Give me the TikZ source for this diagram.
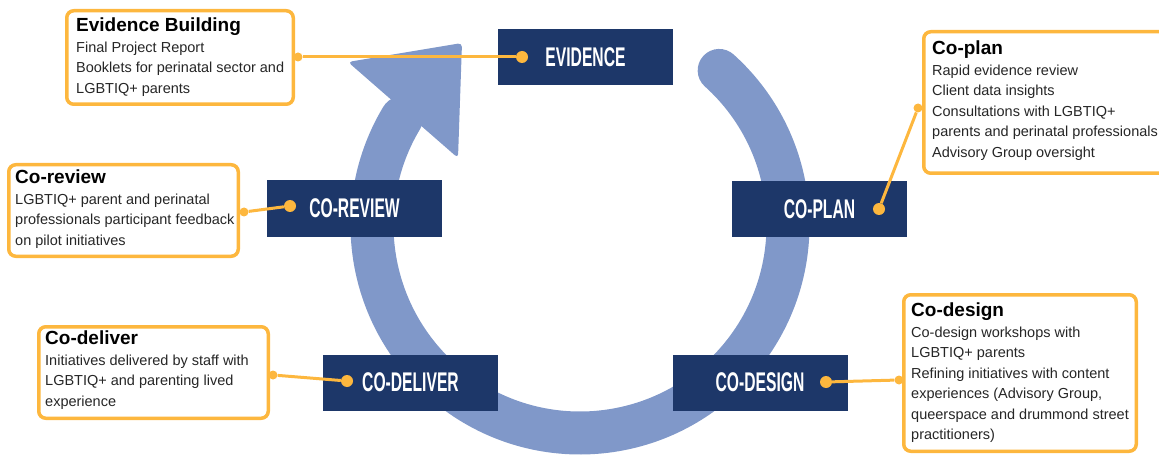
\documentclass[tikz,border=0pt]{standalone}
\usepackage{graphicx}
\usepackage{fontspec}
\setmainfont{Liberation Sans}

\definecolor{navy}{RGB}{29,55,105}
\definecolor{ringblue}{RGB}{128,152,201}
\definecolor{amber}{RGB}{253,183,62}
\definecolor{ink}{RGB}{38,38,38}

\newcommand{\stagename}[1]{\scalebox{0.58}[1]{\fontsize{27}{27}\selectfont\bfseries #1}}
\newcommand{\notetitle}[1]{{\fontsize{19}{20.5}\selectfont\bfseries\color{black}#1}}

\begin{document}
\begin{tikzpicture}[x=1pt, y=-1pt,
    stage/.style={fill=navy, text=white, minimum width=175pt, minimum height=56pt, inner sep=0pt},
    notebox/.style={draw=amber, line width=3.5pt, fill=white, rounded corners=7pt},
    note/.style={anchor=north west, align=left, inner sep=0pt, text=ink, font=\fontsize{14.5}{20.5}\selectfont},
    pin/.style={circle, fill=amber, minimum size=12pt, inner sep=0pt},
    tab/.style={circle, fill=amber, minimum size=9pt, inner sep=0pt}]

        \clip (0,0) rectangle (1159,457);

        % the cycle arrow
        \coordinate (hub) at (580,225);
        \draw[ringblue, line width=43pt, line cap=round] (hub) ++(-48:208) arc[start angle=-48, end angle=211, radius=208];
        \fill[ringblue, rounded corners=4pt] (462,43) -- (348,62) -- (458,158) -- cycle;

        \begin{scope}[every node/.style={notebox}]
          \node[minimum width=226.5pt, minimum height=93.5pt]  (evidence-box) at (180,57.5)   {};
          \node[minimum width=254.5pt, minimum height=141.5pt] (coplan-box)   at (1051,102.5) {};
          \node[minimum width=229.5pt, minimum height=91.5pt]  (coreview-box) at (123.5,210.5) {};
          \node[minimum width=229.5pt, minimum height=91.5pt]  (codeliver-box) at (153.5,372.5) {};
          \node[minimum width=232.5pt, minimum height=156.5pt] (codesign-box) at (1020,373)  {};
        \end{scope}

        \node[note] (evidence-note) at (76,18) {\notetitle{Evidence Building}\\
          Final Project Report\\ Booklets for perinatal sector and\\ LGBTIQ+ parents};
        \node[note] (coplan-note) at (932,41) {\notetitle{Co-plan}\\
          Rapid evidence review\\ Client data insights\\ Consultations with LGBTIQ+\\
          parents and perinatal professionals\\ Advisory Group oversight};
        \node[note] (coreview-note) at (15,170) {\notetitle{Co-review}\\
          LGBTIQ+ parent and perinatal\\ professionals participant feedback\\ on pilot initiatives};
        \node[note] (codeliver-note) at (45,331) {\notetitle{Co-deliver}\\
          Initiatives delivered by staff with\\ LGBTIQ+ and parenting lived\\ experience};
        \node[note] (codesign-note) at (911,303) {\notetitle{Co-design}\\
          Co-design workshops with\\ LGBTIQ+ parents\\ Refining initiatives with content\\
          experiences (Advisory Group,\\ queerspace and drummond street\\ practitioners)};

        \begin{scope}[every node/.style={stage}]
          \node (evidence)  at (585.5,57.5) {\stagename{EVIDENCE}};
          \node (coplan)    at (819.5,209)  {\stagename{CO-PLAN}};
          \node (codesign)  at (760,382.5)  {\stagename{CO-DESIGN}};
          \node (codeliver) at (410.5,382.5) {\stagename{CO-DELIVER}};
          \node (coreview)  at (354.5,208.5) {\stagename{CO-REVIEW}};
        \end{scope}

        \begin{scope}[every node/.style={pin}]
          \node (evidence-pin)  at (522,57)  {};
          \node (coplan-pin)    at (879,209) {};
          \node (codesign-pin)  at (826,382) {};
          \node (codeliver-pin) at (347,381) {};
          \node (coreview-pin)  at (290,206) {};
        \end{scope}

        \begin{scope}[every node/.style={tab}]
          \node (evidence-tab)  at (298,57)  {};
          \node (coplan-tab)    at (918,108) {};
          \node (codesign-tab)  at (899,380) {};
          \node (codeliver-tab) at (273,375) {};
          \node (coreview-tab)  at (244,212) {};
        \end{scope}

        \begin{scope}[every edge/.style={draw=amber, line width=3pt}]
          \path (evidence-tab)  edge (evidence-pin);
          \path (coplan-tab)    edge (coplan-pin);
          \path (codesign-tab)  edge (codesign-pin);
          \path (codeliver-tab) edge (codeliver-pin);
          \path (coreview-tab)  edge (coreview-pin);
        \end{scope}

      \end{tikzpicture}
\end{document}
